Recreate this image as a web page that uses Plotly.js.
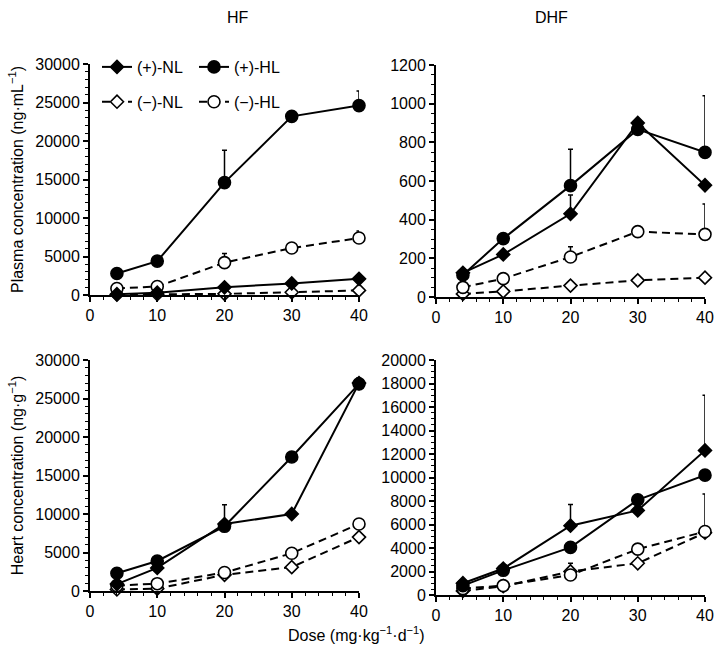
<!DOCTYPE html>
<html>
<head>
<meta charset="utf-8">
<script src="https://cdn.plot.ly/plotly-3.0.1.min.js"></script>
<style>html,body{margin:0;padding:0;background:#fff}#chart{width:714px;height:652px}</style>
</head>
<body>
<div id="chart"></div>
<script>
// Doses (mg/kg/d)
const doses = [4, 10, 20, 30, 40];
const seriesNames = ['(+)-NL', '(+)-HL', '(\u2212)-NL', '(\u2212)-HL'];
const panelTitles = ['HF', 'DHF'];
const yTitles = ['Plasma concentration (ng\u00b7mL<sup>\u22121</sup>)', 'Heart concentration (ng\u00b7g<sup>\u22121</sup>)'];
const xTitle = 'Dose (mg\u00b7kg<sup>\u22121</sup>\u00b7d<sup>\u22121</sup>)';

// HF plasma (ng/mL)
const hfPlasmaPosNL = [100, 300, 1000, 1500, 2100];
const hfPlasmaPosHL = [2800, 4400, 14600, 23200, 24600];
const hfPlasmaNegNL = [50, 100, 150, 350, 600];
const hfPlasmaNegHL = [850, 1100, 4200, 6100, 7400];
const hfPlasmaPosHLTop = [null, null, 18800, null, 26500];
const hfPlasmaNegHLTop = [null, null, 5400, null, 8300];

// DHF plasma (ng/mL)
const dhfPlasmaPosNL = [125, 220, 430, 900, 578];
const dhfPlasmaPosHL = [114, 302, 576, 867, 748];
const dhfPlasmaNegNL = [16, 29, 59, 86, 100];
const dhfPlasmaNegHL = [50, 95, 207, 338, 324];
const dhfPlasmaPosNLTop = [null, null, 528, null, null];
const dhfPlasmaPosHLTop = [null, null, 764, null, 1041];
const dhfPlasmaNegHLTop = [null, null, 260, null, 481];

// HF heart (ng/g)
const hfHeartPosNL = [900, 3000, 8700, 10000, 27000];
const hfHeartPosHL = [2300, 3900, 8400, 17400, 26900];
const hfHeartNegNL = [200, 300, 2100, 3100, 7000];
const hfHeartNegHL = [700, 950, 2400, 4900, 8700];
const hfHeartPosHLTop = [null, null, 11200, null, 27700];
const hfHeartNegHLTop = [null, null, null, null, 9300];

// DHF heart (ng/g)
const dhfHeartPosNL = [1000, 2250, 5900, 7200, 12300];
const dhfHeartPosHL = [800, 2100, 4050, 8100, 10200];
const dhfHeartNegNL = [350, 750, 2000, 2700, 5300];
const dhfHeartNegHL = [550, 800, 1700, 3900, 5400];
const dhfHeartPosNLTop = [null, null, 7700, null, 17000];
const dhfHeartNegNLTop = [null, null, 2700, null, null];
const dhfHeartNegHLTop = [null, null, null, null, 8600];

const panels = [
  {xa: 'x', ya: 'y', data: [hfPlasmaPosNL, hfPlasmaPosHL, hfPlasmaNegNL, hfPlasmaNegHL], tops: [null, hfPlasmaPosHLTop, null, hfPlasmaNegHLTop]},
  {xa: 'x2', ya: 'y2', data: [dhfPlasmaPosNL, dhfPlasmaPosHL, dhfPlasmaNegNL, dhfPlasmaNegHL], tops: [dhfPlasmaPosNLTop, dhfPlasmaPosHLTop, null, dhfPlasmaNegHLTop]},
  {xa: 'x3', ya: 'y3', data: [hfHeartPosNL, hfHeartPosHL, hfHeartNegNL, hfHeartNegHL], tops: [null, hfHeartPosHLTop, null, hfHeartNegHLTop]},
  {xa: 'x4', ya: 'y4', data: [dhfHeartPosNL, dhfHeartPosHL, dhfHeartNegNL, dhfHeartNegHL], tops: [dhfHeartPosNLTop, null, dhfHeartNegNLTop, dhfHeartNegHLTop]}
];

const styles = [
  {symbol: 'diamond', size: 10, fill: '#000', dash: 'solid'},
  {symbol: 'circle', size: 12, fill: '#000', dash: 'solid'},
  {symbol: 'diamond', size: 10, fill: '#fff', dash: '8px,5px'},
  {symbol: 'circle', size: 12, fill: '#fff', dash: '8px,5px'}
];
const legendFor = ['legend', 'legend2', 'legend', 'legend2'];
const ranks = [1, 1, 2, 2];

const traces = [];
panels.forEach((p, pi) => {
  // draw open (−) series first so filled ones sit on top
  [2, 3, 0, 1].forEach(si => {
    const st = styles[si];
    const vals = p.data[si];
    const top = p.tops[si];
    const t = {
      type: 'scatter', mode: 'lines+markers',
      x: doses, y: vals, xaxis: p.xa, yaxis: p.ya,
      name: seriesNames[si],
      legend: legendFor[si],
      legendgroup: 'g' + si + '_' + pi,
      legendrank: ranks[si],
      showlegend: pi === 0,
      cliponaxis: false,
      line: {color: '#000', width: 2, dash: st.dash},
      marker: {symbol: st.symbol, size: st.size, color: st.fill, line: {color: '#000', width: 1.6}},
      hoverinfo: 'x+y+name'
    };
    if (top) {
      t.error_y = {
        type: 'data', symmetric: false,
        array: top.map((v, i) => v === null ? 0 : v - vals[i]),
        arrayminus: top.map(() => 0),
        color: '#000', thickness: 1.5, width: 2.5
      };
    }
    traces.push(t);
  });
});

const fontFam = 'Liberation Sans, Arial, Helvetica, sans-serif';
function xAxis(domain, anchor) {
  return {
    domain: domain, anchor: anchor, range: [0, 40], dtick: 10, tick0: 0,
    showline: true, linecolor: '#000', linewidth: 2, mirror: false,
    ticks: 'outside', ticklen: 5, tickwidth: 1.5, tickcolor: '#000',
    minor: {dtick: 2, ticks: 'outside', ticklen: 3, tickwidth: 1, tickcolor: '#000'},
    showgrid: false, zeroline: false, tickformat: 'd',
    tickfont: {family: fontFam, size: 16, color: '#000'}
  };
}
function yAxis(domain, anchor, max, dt, mdt, title) {
  const a = {
    domain: domain, anchor: anchor, range: [0, max], dtick: dt, tick0: 0,
    showline: true, linecolor: '#000', linewidth: 2,
    ticks: 'outside', ticklen: 5, tickwidth: 1.5, tickcolor: '#000',
    minor: {dtick: mdt, ticks: 'outside', ticklen: 3, tickwidth: 1, tickcolor: '#000'},
    showgrid: false, zeroline: false, tickformat: 'd',
    tickfont: {family: fontFam, size: 16, color: '#000'}
  };
  if (title) a.title = {text: title, font: {family: fontFam, size: 16, color: '#000'}, standoff: 8};
  return a;
}

const W = 714, H = 652;
const px = v => v / W, py = v => 1 - v / H;

const legendBase = {yanchor: 'top', xanchor: 'left', bgcolor: 'rgba(0,0,0,0)',
  font: {family: fontFam, size: 16, color: '#000'}, traceorder: 'grouped', itemwidth: 30, tracegroupgap: 11};

const layout = {
  width: W, height: H,
  margin: {l: 0, r: 0, t: 0, b: 0},
  paper_bgcolor: '#fff', plot_bgcolor: '#fff',
  font: {family: fontFam, size: 16, color: '#000'},
  xaxis: xAxis([px(90), px(359)], 'y'),
  yaxis: yAxis([py(295), py(64)], 'x', 30000, 5000, 1000, yTitles[0]),
  xaxis2: xAxis([px(436), px(705)], 'y2'),
  yaxis2: yAxis([py(297), py(65)], 'x2', 1200, 200, 50, null),
  xaxis3: xAxis([px(90), px(359)], 'y3'),
  yaxis3: yAxis([py(591), py(360)], 'x3', 30000, 5000, 1000, yTitles[1]),
  xaxis4: xAxis([px(436), px(705)], 'y4'),
  yaxis4: yAxis([py(595), py(360)], 'x4', 20000, 2000, 500, null),
  legend: Object.assign({}, legendBase, {x: px(97), y: py(50)}),
  legend2: Object.assign({}, legendBase, {x: px(194), y: py(50)}),
  annotations: [
    {text: panelTitles[0], x: px(225), y: py(18), xref: 'paper', yref: 'paper', showarrow: false, yanchor: 'middle', font: {size: 16}},
    {text: panelTitles[1], x: px(570), y: py(18), xref: 'paper', yref: 'paper', showarrow: false, yanchor: 'middle', font: {size: 16}},
    {text: xTitle, x: px(356), y: py(634), xref: 'paper', yref: 'paper', showarrow: false, yanchor: 'middle', font: {size: 16}}
  ],
  showlegend: true
};

Plotly.newPlot('chart', traces, layout, {displayModeBar: false, responsive: false});
</script>
</body>
</html>
